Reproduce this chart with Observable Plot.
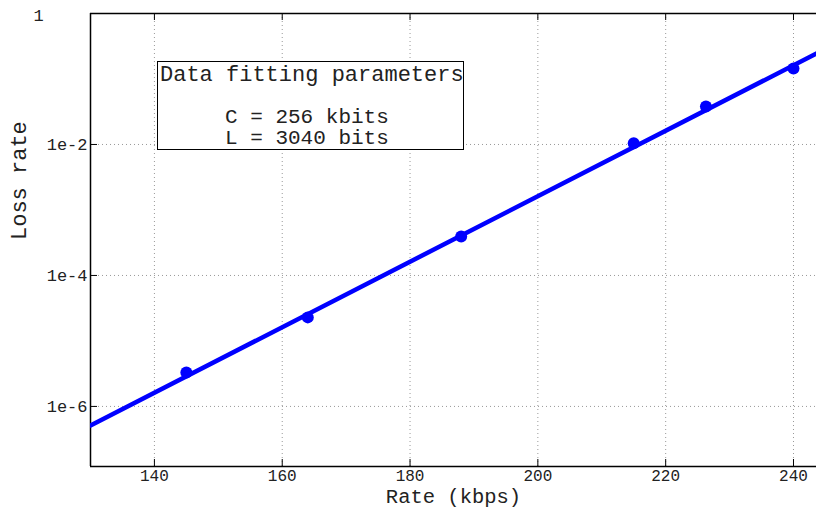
<!DOCTYPE html>
<html>
<head>
<meta charset="utf-8">
<script src="https://cdn.jsdelivr.net/npm/d3@7"></script>
<script src="https://cdn.jsdelivr.net/npm/@observablehq/plot@0.6"></script>
<style>
  html, body { margin: 0; padding: 0; background: #fff; overflow: hidden; }
  #wrap { position: relative; width: 816px; height: 513px; }
  #legend {
    position: absolute; left: 157px; top: 61px; width: 305px; height: 87px;
    border: 1px solid #000; background: #fff; box-sizing: content-box;
    font-family: "Liberation Mono", "DejaVu Sans Mono", monospace; font-size: 22px; color: #222;
  }
  #legend div { position: absolute; white-space: pre; line-height: 19px; }
</style>
</head>
<body>
<div id="wrap"></div>
<script>
// ---- data ----
const rateKbps = [145, 164, 188, 215, 226.3, 240];
const lossRate = [3.3e-6, 2.29e-5, 3.94e-4, 0.0104, 0.038, 0.145];
const fitRate = [130, 243.6];
const fitLoss = [5.13e-7, 0.245];
const xTicks = [140, 160, 180, 200, 220, 240];
const yTicks = [1e-2, 1e-4, 1e-6];
const yTickLabels = ["1e-2", "1e-4", "1e-6"];
const topTickLabel = "1";
const xLabel = "Rate (kbps)";
const yLabel = "Loss rate";
const legendTitle = "Data fitting parameters";
const legendLines = ["C = 256 kbits", "L = 3040 bits"];

const points = rateKbps.map((r, i) => ({rate: r, loss: lossRate[i]}));
const fit = fitRate.map((r, i) => ({rate: r, loss: fitLoss[i]}));
const yTickRows = yTicks.map((v, i) => ({v, label: yTickLabels[i]}));

const font = "Liberation Mono, DejaVu Sans Mono, monospace";
const ink = "#222";

const chart = Plot.plot({
  width: 816,
  height: 513,
  marginLeft: 90,
  marginRight: 0,
  marginTop: 13,
  marginBottom: 47,
  style: {fontFamily: font, background: "#fff", color: ink},
  x: {domain: [130, 243.6], ticks: xTicks},
  y: {type: "log", domain: [1.21e-7, 1], axis: null},
  marks: [
    // dotted grid
    Plot.ruleX(xTicks, {x: d => d, stroke: "#999", strokeDasharray: "1,3", strokeWidth: 1}),
    Plot.ruleY(yTicks, {y: d => d, stroke: "#999", strokeDasharray: "1,3", strokeWidth: 1}),
    // inward ticks
    Plot.tickX(xTicks, {x: d => d, insetTop: 446, stroke: "#000"}),
    Plot.tickX(xTicks, {x: d => d, insetBottom: 446, stroke: "#000"}),
    Plot.tickY(yTicks, {y: d => d, insetRight: 719, stroke: "#000"}),
    // axes frame (left, top, bottom)
    Plot.ruleX([130], {stroke: "#000", strokeWidth: 1.5}),
    Plot.ruleY([1], {stroke: "#000", strokeWidth: 1.5}),
    Plot.ruleY([1.21e-7], {stroke: "#000", strokeWidth: 1.5}),
    // tick labels
    Plot.axisX(xTicks, {tickSize: 0, tickPadding: 3, fontSize: 16, fill: ink, label: null}),
    Plot.text(yTickRows, {x: 130, y: "v", text: "label", dx: -3, textAnchor: "end", fontSize: 17, fill: ink}),
    Plot.text([topTickLabel], {x: 130, y: 1, text: d => d, dx: -52, dy: 2, fontSize: 17, fill: ink, textAnchor: "middle"}),
    // axis labels
    Plot.text([xLabel], {frameAnchor: "bottom", text: d => d, dy: 36.5, fontSize: 20.5, fill: ink}),
    Plot.text([yLabel], {frameAnchor: "left", text: d => d, dx: -72, rotate: -90, fontSize: 22, fill: ink}),
    // fit line and data
    Plot.line(fit, {x: "rate", y: "loss", stroke: "#0000ff", strokeWidth: 4.5, clip: true}),
    Plot.dot(points, {x: "rate", y: "loss", r: 6, fill: "#0000ff", stroke: "none"})
  ]
});

const wrap = document.getElementById("wrap");
wrap.appendChild(chart);

// legend box
const legend = document.createElement("div");
legend.id = "legend";
const t = document.createElement("div");
t.textContent = legendTitle;
t.style.left = "2px"; t.style.top = "4px";
legend.appendChild(t);
legendLines.forEach((s, i) => {
  const d = document.createElement("div");
  d.textContent = s;
  d.style.left = "67px";
  d.style.fontSize = "21px";
  d.style.top = (46 + i * 21) + "px";
  legend.appendChild(d);
});
wrap.appendChild(legend);
</script>
</body>
</html>
